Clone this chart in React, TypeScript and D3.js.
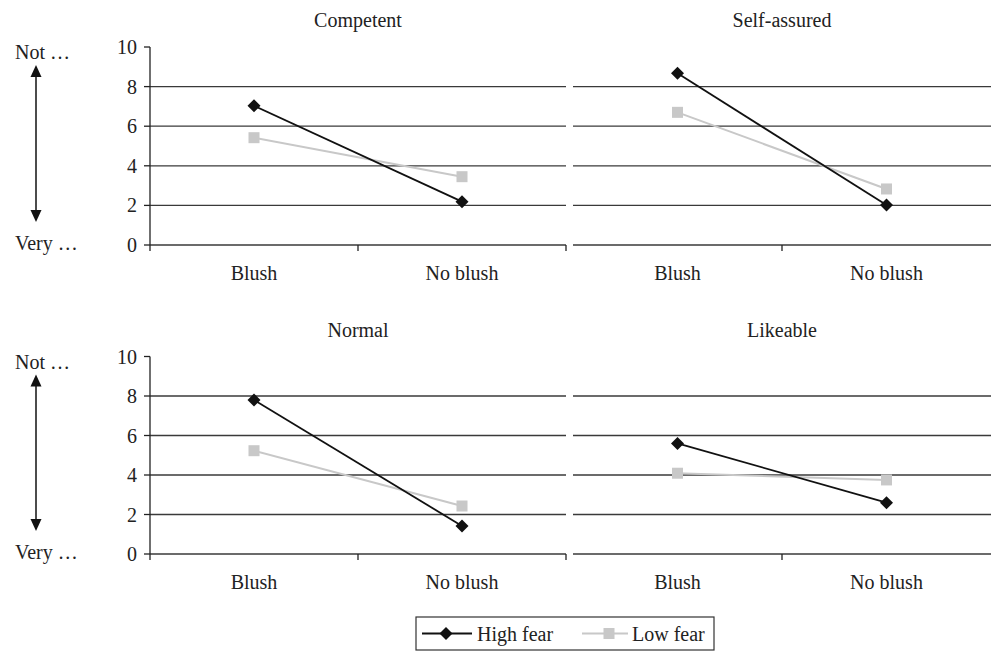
import React from "react";
import * as d3 from "d3";

const categories = ["Blush", "No blush"];
const panelTitles = ["Competent", "Self-assured", "Normal", "Likeable"];
const highFear = [
  [7.03, 2.19],
  [8.67, 2.02],
  [7.8, 1.42],
  [5.6, 2.6],
];
const lowFear = [
  [5.42, 3.45],
  [6.7, 2.83],
  [5.23, 2.43],
  [4.09, 3.75],
];
const yTicks = [0, 2, 4, 6, 8, 10];
const seriesNames = ["High fear", "Low fear"];

const FONT = "Liberation Serif, DejaVu Serif, Times New Roman, serif";
const FS = 20;
const HIGH = "#111";
const LOW = "#c8c8c8";
const TXT = "#222";

type Panel = { x0: number; x1: number; y0: number; y10: number; left: boolean };

const panels: Panel[] = [
  { x0: 150, x1: 566, y0: 245, y10: 47, left: true },
  { x0: 573, x1: 991, y0: 245, y10: 47, left: false },
  { x0: 150, x1: 566, y0: 554, y10: 356.5, left: true },
  { x0: 573, x1: 991, y0: 554, y10: 356.5, left: false },
];

function diamond(cx: number, cy: number, r: number) {
  return `M${cx},${cy - r}L${cx + r},${cy}L${cx},${cy + r}L${cx - r},${cy}Z`;
}

const tStyle = { fontFamily: FONT, fontSize: FS, fill: TXT } as React.CSSProperties;

function PanelChart({ p, idx }: { p: Panel; idx: number }) {
  const x = d3.scaleBand<string>().domain(categories).range([p.x0, p.x1]);
  const y = d3.scaleLinear().domain([0, 10]).range([p.y0, p.y10]);
  const cx = (c: string) => (x(c) as number) + x.bandwidth() / 2;
  const line = d3
    .line<number>()
    .x((_, i) => cx(categories[i]))
    .y((d) => y(d));
  const hf = highFear[idx];
  const lf = lowFear[idx];
  const midX = (p.x0 + p.x1) / 2;
  return (
    <g>
      <text x={midX} y={y(10) - 20} textAnchor="middle" style={tStyle}>
        {panelTitles[idx]}
      </text>
      {yTicks.map((t) =>
        t === 10 ? null : (
          <line key={t} x1={p.x0} x2={p.x1} y1={y(t)} y2={y(t)} stroke="#3a3a3a" strokeWidth={1.3} />
        )
      )}
      {p.left && (
        <g>
          <line x1={p.x0} x2={p.x0} y1={y(10)} y2={y(0) + 6} stroke="#222" strokeWidth={1.3} />
          {yTicks.map((t) => (
            <g key={t}>
              <line x1={p.x0 - 6} x2={p.x0} y1={y(t)} y2={y(t)} stroke="#222" strokeWidth={1.3} />
              <text x={p.x0 - 13} y={y(t)} dy="0.35em" textAnchor="end" style={tStyle}>
                {t}
              </text>
            </g>
          ))}
        </g>
      )}
      {(p.left ? [midX, p.x1] : [midX]).map((tx, i) => (
        <line key={i} x1={tx} x2={tx} y1={y(0)} y2={y(0) + 6} stroke="#222" strokeWidth={1.3} />
      ))}
      {categories.map((c) => (
        <text key={c} x={cx(c)} y={y(0) + 35} textAnchor="middle" style={tStyle}>
          {c}
        </text>
      ))}
      <path d={line(lf) || ""} fill="none" stroke={LOW} strokeWidth={2} />
      {lf.map((v, i) => (
        <rect key={i} x={cx(categories[i]) - 5.5} y={y(v) - 5.5} width={11} height={11} fill={LOW} />
      ))}
      <path d={line(hf) || ""} fill="none" stroke={HIGH} strokeWidth={1.8} />
      {hf.map((v, i) => (
        <path key={i} d={diamond(cx(categories[i]), y(v), 6.5)} fill={HIGH} />
      ))}
      {p.left && (
        <g>
          <text x={15} y={y(10) + 5} dy="0.35em" style={tStyle}>
            Not …
          </text>
          <text x={15} y={y(0) - 2} dy="0.35em" style={tStyle}>
            Very …
          </text>
          <line x1={36} x2={36} y1={y(10) + 26} y2={y(0) - 31} stroke="#111" strokeWidth={1.5} />
          <path d={`M36,${y(10) + 18}L41.5,${y(10) + 30}L30.5,${y(10) + 30}Z`} fill="#111" />
          <path d={`M36,${y(0) - 23}L41.5,${y(0) - 35}L30.5,${y(0) - 35}Z`} fill="#111" />
        </g>
      )}
    </g>
  );
}

export default function App() {
  const ly = 617;
  const cy = 633.5;
  return (
    <svg width={993} height={651} style={{ position: "absolute", left: 0, top: 0 }}>
      <rect width={993} height={651} fill="#fff" />
      {panels.map((p, i) => (
        <PanelChart key={i} p={p} idx={i} />
      ))}
      <rect x={416} y={ly} width={298} height={33} fill="#fff" stroke="#333" strokeWidth={1.2} />
      <line x1={422} x2={472} y1={cy} y2={cy} stroke={HIGH} strokeWidth={1.8} />
      <path d={diamond(446, cy, 6.5)} fill={HIGH} />
      <text x={477} y={cy} dy="0.35em" style={tStyle}>
        {seriesNames[0]}
      </text>
      <line x1={582} x2={628} y1={cy} y2={cy} stroke={LOW} strokeWidth={2} />
      <rect x={609 - 5.5} y={cy - 5.5} width={11} height={11} fill={LOW} />
      <text x={632} y={cy} dy="0.35em" style={tStyle}>
        {seriesNames[1]}
      </text>
    </svg>
  );
}
